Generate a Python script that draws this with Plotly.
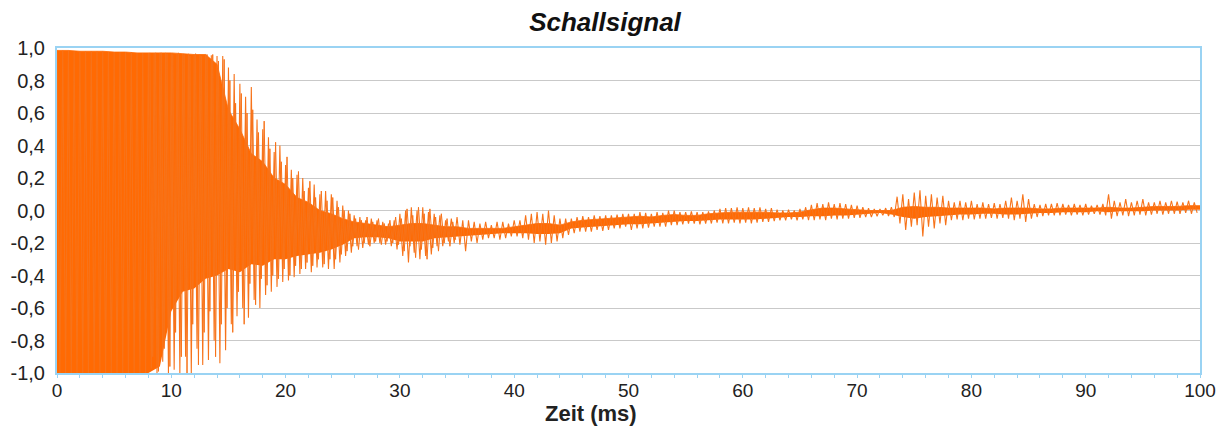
import plotly.graph_objects as go

# ---- data ----
bin_ms = 0.5          # width of one peak bin (ms)
core_step_ms = 1.0    # step of the dense-core outline (ms)
peak2_start_ms = 8.0  # first bin of the secondary peaks

# upper peaks of the signal per 0.5 ms bin (t = 0 ... 99.5 ms)
peak_hi = [
    0.985, 0.985, 0.985, 0.98, 0.98, 0.98, 0.98, 0.98, 0.98, 0.975,
    0.975, 0.975, 0.975, 0.975, 0.97, 0.97, 0.97, 0.97, 0.97, 0.97,
    0.97, 0.965, 0.965, 0.965, 0.96, 0.96, 0.96, 0.955, 0.95, 0.95,
    0.88, 0.84, 0.78, 0.70, 0.76, 0.56, 0.50, 0.45, 0.36, 0.40,
    0.28, 0.25, 0.22, 0.20, 0.14, 0.16, 0.10, 0.12, 0.10, 0.06,
    0.03, 0.0, -0.03, -0.04, -0.06, -0.05, -0.06, -0.07, -0.08, -0.06,
    -0.02, 0.0, 0.02, 0.0, 0.02, -0.01, -0.02, -0.03, -0.06, -0.05,
    -0.04, -0.06, -0.06, -0.07, -0.08, -0.07, -0.09, -0.07, -0.07, -0.08,
    -0.06, -0.06, -0.03, -0.02, -0.01, -0.02, 0.0, -0.03, -0.05, -0.05,
    -0.05, -0.04, -0.035, -0.04, -0.03, -0.035, -0.03, -0.03, -0.025, -0.02,
    -0.02, -0.02, -0.01, -0.015, -0.02, -0.01, -0.015, 0.0, 0.0, -0.01,
    -0.01, -0.005, -0.01, -0.01, -0.005, 0.0, 0.01, 0.015, 0.015, 0.02,
    0.015, 0.02, 0.015, 0.02, 0.01, 0.015, 0.005, 0.0, 0.005, 0.0,
    0.01, 0.02, 0.035, 0.045, 0.04, 0.05, 0.04, 0.045, 0.04, 0.035,
    0.03, 0.02, 0.015, 0.01, 0.01, 0.015, 0.02, 0.085, 0.10, 0.07,
    0.11, 0.125, 0.09, 0.10, 0.08, 0.09, 0.06, 0.05, 0.06, 0.05,
    0.06, 0.04, 0.05, 0.04, 0.045, 0.04, 0.06, 0.08, 0.06, 0.10,
    0.07, 0.04, 0.035, 0.04, 0.04, 0.045, 0.04, 0.035, 0.04, 0.035,
    0.04, 0.03, 0.035, 0.04, 0.10, 0.06, 0.05, 0.07, 0.05, 0.06,
    0.07, 0.05, 0.05, 0.06, 0.05, 0.06, 0.055, 0.05, 0.06, 0.05,
]

# lower peaks of the signal per 0.5 ms bin
peak_lo = [
    -1.0, -1.0, -1.0, -1.0, -1.0, -1.0, -1.0, -1.0, -1.0, -1.0,
    -1.0, -1.0, -1.0, -1.0, -1.0, -1.0, -0.97, -1.0, -0.93, -1.0,
    -0.98, -1.0, -0.90, -1.0, -0.85, -0.95, -0.92, -0.80, -0.94, -0.86,
    -0.70, -0.65, -0.60, -0.66, -0.55, -0.60, -0.52, -0.50, -0.47, -0.44,
    -0.43, -0.41, -0.39, -0.36, -0.38, -0.35, -0.35, -0.36, -0.36, -0.32,
    -0.28, -0.26, -0.22, -0.23, -0.21, -0.20, -0.20, -0.21, -0.22, -0.24,
    -0.28, -0.32, -0.26, -0.30, -0.28, -0.27, -0.22, -0.22, -0.19, -0.20,
    -0.21, -0.25, -0.19, -0.20, -0.18, -0.17, -0.17, -0.18, -0.17, -0.16,
    -0.16, -0.17, -0.18, -0.20, -0.19, -0.21, -0.20, -0.19, -0.17, -0.15,
    -0.14, -0.13, -0.13, -0.13, -0.12, -0.125, -0.12, -0.11, -0.11, -0.10,
    -0.12, -0.11, -0.11, -0.105, -0.10, -0.10, -0.10, -0.09, -0.09, -0.085,
    -0.08, -0.08, -0.085, -0.08, -0.08, -0.075, -0.08, -0.08, -0.075, -0.08,
    -0.075, -0.08, -0.075, -0.07, -0.07, -0.065, -0.06, -0.06, -0.055, -0.06,
    -0.055, -0.06, -0.06, -0.055, -0.06, -0.05, -0.055, -0.05, -0.05, -0.045,
    -0.045, -0.04, -0.04, -0.035, -0.03, -0.035, -0.04, -0.08, -0.12, -0.10,
    -0.09, -0.16, -0.10, -0.11, -0.08, -0.09, -0.06, -0.055, -0.06, -0.05,
    -0.055, -0.05, -0.05, -0.045, -0.05, -0.045, -0.05, -0.06, -0.05, -0.07,
    -0.05, -0.04, -0.035, -0.03, -0.03, -0.03, -0.025, -0.03, -0.025, -0.03,
    -0.025, -0.02, -0.025, -0.03, -0.05, -0.035, -0.03, -0.035, -0.03, -0.025,
    -0.03, -0.025, -0.02, -0.025, -0.02, -0.02, -0.02, -0.015, -0.02, -0.015,
]

# secondary (in-between) peaks, 0.5 ms bins, t = 8.0 ... 34.5 ms
peak2_hi = [
    0.97, 0.97, 0.97, 0.965,
    0.96, 0.97, 0.96, 0.95, 0.965, 0.95, 0.96, 0.96, 0.92, 0.93,
    0.80, 0.66, 0.72, 0.60, 0.62, 0.48, 0.55, 0.38, 0.42, 0.30,
    0.33, 0.20, 0.24, 0.12, 0.18, 0.08, 0.12, 0.06, 0.08, 0.02,
    0.0, -0.02, -0.05, -0.06, -0.04, -0.07, -0.05, -0.08, -0.06, -0.04,
    -0.05, 0.01, -0.03, 0.02, -0.02, 0.01, -0.04, -0.02, -0.05, -0.07,
]
peak2_lo = [
    -0.90, -0.99, -0.85, -0.96,
    -0.75, -0.90, -1.0, -0.70, -0.95, -0.75, -0.62, -0.90, -0.70, -0.60,
    -0.75, -0.50, -0.70, -0.45, -0.58, -0.42, -0.46, -0.40, -0.42, -0.36,
    -0.40, -0.34, -0.36, -0.32, -0.34, -0.30, -0.33, -0.30, -0.30, -0.27,
    -0.25, -0.22, -0.24, -0.20, -0.22, -0.19, -0.21, -0.19, -0.20, -0.21,
    -0.25, -0.22, -0.29, -0.24, -0.30, -0.23, -0.25, -0.20, -0.22, -0.18,
]

# dense (solid) core of the signal, per 1 ms (t = 0 ... 100 ms)
core_hi = [
    0.985, 0.985, 0.98, 0.98, 0.98, 0.975, 0.975, 0.97, 0.97, 0.97,
    0.97, 0.965, 0.96, 0.96, 0.90, 0.62, 0.50, 0.35, 0.30, 0.20,
    0.16, 0.08, 0.05, 0.0, -0.02, -0.05, -0.07, -0.08, -0.09, -0.10,
    -0.09, -0.08, -0.08, -0.09, -0.10, -0.10, -0.11, -0.11, -0.11, -0.11,
    -0.10, -0.09, -0.08, -0.08, -0.09, -0.07, -0.06, -0.055, -0.05, -0.045,
    -0.04, -0.035, -0.04, -0.03, -0.025, -0.03, -0.03, -0.02, -0.015, -0.01,
    -0.01, -0.01, -0.01, -0.015, -0.015, -0.01, 0.005, 0.015, 0.015, 0.01,
    0.005, 0.0, 0.0, 0.0, 0.02, 0.025, 0.02, 0.02, 0.015, 0.015,
    0.015, 0.015, 0.01, 0.015, 0.015, 0.015, 0.01, 0.01, 0.015, 0.015,
    0.015, 0.015, 0.02, 0.015, 0.015, 0.02, 0.025, 0.025, 0.025, 0.03,
    0.03,
]
core_lo = [
    -1.0, -1.0, -1.0, -1.0, -1.0, -1.0, -1.0, -1.0, -1.0, -0.96,
    -0.62, -0.50, -0.48, -0.42, -0.40, -0.36, -0.38, -0.33, -0.34, -0.30,
    -0.30, -0.28, -0.27, -0.26, -0.24, -0.21, -0.17, -0.165, -0.165, -0.17,
    -0.19, -0.19, -0.19, -0.17, -0.165, -0.16, -0.155, -0.15, -0.145, -0.14,
    -0.14, -0.14, -0.145, -0.145, -0.14, -0.11, -0.105, -0.10, -0.095, -0.09,
    -0.085, -0.085, -0.08, -0.075, -0.07, -0.065, -0.065, -0.06, -0.055, -0.055,
    -0.055, -0.055, -0.05, -0.045, -0.04, -0.04, -0.035, -0.035, -0.03, -0.03,
    -0.025, -0.02, -0.015, -0.025, -0.04, -0.05, -0.04, -0.035, -0.03, -0.025,
    -0.025, -0.02, -0.02, -0.025, -0.025, -0.02, -0.015, -0.015, -0.01, -0.01,
    -0.01, -0.005, -0.01, -0.005, -0.005, -0.005, 0.0, 0.0, 0.0, 0.005,
    0.005,
]

x_ticks = [0, 10, 20, 30, 40, 50, 60, 70, 80, 90, 100]
y_ticks = [-1.0, -0.8, -0.6, -0.4, -0.2, 0.0, 0.2, 0.4, 0.6, 0.8, 1.0]
y_tick_labels = ["-1,0", "-0,8", "-0,6", "-0,4", "-0,2", "0,0",
                 "0,2", "0,4", "0,6", "0,8", "1,0"]

title_text = "Schallsignal"
x_title = "Zeit (ms)"

# ---- build traces ----
def zigzag(hi_vals, lo_vals, start):
    xs, ys = [], []
    for i, (hi, lo) in enumerate(zip(hi_vals, lo_vals)):
        t = start + i * bin_ms
        xs += [t, t + bin_ms / 2]
        ys += [hi, lo]
    return xs, ys

t_core = [i * core_step_ms for i in range(len(core_hi))]
x_sig, y_sig = zigzag(peak_hi, peak_lo, 0.0)
x_sig2, y_sig2 = zigzag(peak2_hi, peak2_lo, peak2_start_ms + bin_ms / 4)

ORANGE = "#ff6a03"
LINE = "#f7731a"
BLUE = "#9ad3f3"

fig = go.Figure()
fig.add_trace(go.Scatter(x=t_core, y=core_lo, mode="lines",
                         line=dict(width=0, color=ORANGE),
                         hoverinfo="skip", showlegend=False))
fig.add_trace(go.Scatter(x=t_core, y=core_hi, mode="lines", fill="tonexty",
                         fillcolor=ORANGE, line=dict(width=0.8, color=ORANGE),
                         hoverinfo="skip", showlegend=False))
fig.add_trace(go.Scatter(x=x_sig2, y=y_sig2, mode="lines",
                         line=dict(width=1.0, color=LINE),
                         hoverinfo="skip", showlegend=False))
fig.add_trace(go.Scatter(x=x_sig, y=y_sig, mode="lines",
                         line=dict(width=1.1, color=LINE),
                         name="Schallsignal", showlegend=False))

# page body has an 8 px margin: figure is sized/offset so the plot box
# lands at x 57..1200, y 48..373 in the window
W, H = 1221, 433
L, R, T, B = 49, 29, 40, 68
plot_w = W - L - R
plot_h = H - T - B

fig.update_layout(
    width=W, height=H,
    margin=dict(l=L, r=R, t=T, b=B, autoexpand=False),
    paper_bgcolor="white", plot_bgcolor="white",
    font=dict(family="Liberation Sans, Arial, sans-serif", size=20, color="#222222"),
    title=dict(text="<b><i>" + title_text + "</i></b>",
               x=(605 - 8) / W, xanchor="center",
               y=1 - 14 / H, yanchor="middle", yref="container",
               font=dict(size=26, color="#111111")),
    showlegend=False,
    annotations=[dict(text="<b>" + x_title + "</b>", xref="paper", yref="paper",
                      x=(591 - 57) / plot_w, y=(373 - 414) / plot_h,
                      xanchor="center", yanchor="middle", showarrow=False,
                      font=dict(size=22, color="#222222"))],
)
fig.update_xaxes(
    range=[0, 100], tickvals=x_ticks, ticktext=[str(v) for v in x_ticks],
    showgrid=False, zeroline=False, automargin=False,
    showline=True, linecolor=BLUE, linewidth=2, mirror=True,
    ticks="outside", ticklen=3, tickcolor=BLUE, tickwidth=1,
    minor=dict(dtick=2, ticks="outside", ticklen=3, tickcolor=BLUE, showgrid=False),
    tickfont=dict(size=19), ticklabelstandoff=-4,
)
fig.update_yaxes(
    range=[-1, 1], tickvals=y_ticks, ticktext=y_tick_labels,
    showgrid=True, gridcolor="#c9c9c9", gridwidth=1, zeroline=False,
    automargin=False,
    showline=True, linecolor=BLUE, linewidth=2, mirror=True,
    ticks="", tickfont=dict(size=20), ticklabelstandoff=6,
)

fig.write_html("out.html")
